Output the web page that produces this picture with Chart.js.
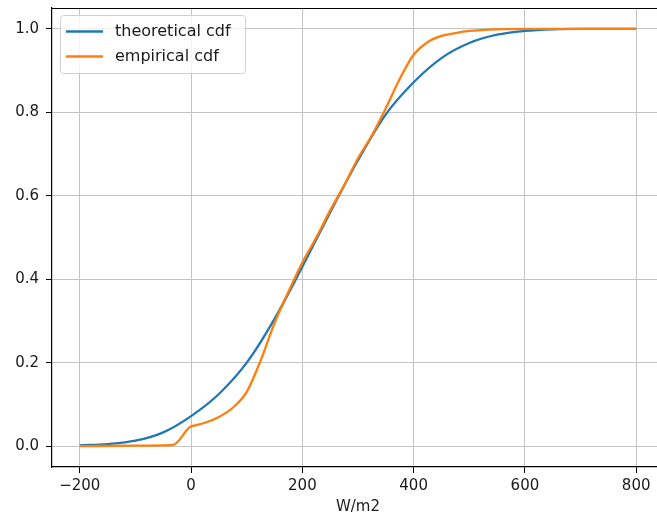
<!DOCTYPE html>
<html>
<head>
<meta charset="utf-8">
<script src="https://cdn.jsdelivr.net/npm/chart.js@4/dist/chart.umd.min.js"></script>
<style>
    html, body { margin: 0; padding: 0; background: #fff; overflow: hidden; }
    #wrap { width: 657px; height: 520px; overflow: hidden; }
</style>
</head>
<body>
<div id="wrap"><canvas id="cdf" width="664" height="520"></canvas></div>
<script>
// theoretical cdf
const theoX = [-200, -150, -100, -50, 0, 50, 100, 150, 200, 250, 300, 350, 400, 450, 500, 550, 600, 650, 700, 750, 800];
const theoCdf = [0.002, 0.005, 0.013, 0.033, 0.072, 0.125, 0.2, 0.305, 0.43, 0.56, 0.685, 0.795, 0.872, 0.93, 0.966, 0.986, 0.995, 0.999, 1.0, 1.0, 1.0];

// empirical cdf
const empX = [-200, -100, -50, -32, -2, 8, 25, 50, 75, 100, 125, 150, 175, 200, 225, 250, 275, 300, 325, 350, 375, 400, 425, 450, 475, 500, 550, 600, 700, 800];
const empCdf = [0.0, 0.001, 0.002, 0.003, 0.046, 0.05, 0.056, 0.07, 0.092, 0.13, 0.205, 0.295, 0.37, 0.44, 0.5, 0.565, 0.625, 0.69, 0.745, 0.81, 0.88, 0.938, 0.968, 0.983, 0.99, 0.995, 0.999, 1.0, 1.0, 1.0];

const xTicks = [-200, 0, 200, 400, 600, 800];
const yTicks = [0.0, 0.2, 0.4, 0.6, 0.8, 1.0];
const seriesLabels = ['theoretical cdf', 'empirical cdf'];
const seriesColors = ['#1f77b4', '#ff7f0e'];

const FONT = 'DejaVu Sans';

const toPoints = (xs, ys) => xs.map((x, i) => ({ x: x, y: ys[i] }));

// no extra room for end labels, the axes box is fixed
const noEdgePadding = scale => {
    scale.paddingTop = 0;
    scale.paddingBottom = 0;
    scale.paddingLeft = 0;
    scale.paddingRight = 0;
};

// top spine + matplotlib style legend inside the axes
const framePlugin = {
    id: 'frame',
    afterDraw(chart) {
        const { ctx, chartArea } = chart;
        ctx.save();
        ctx.strokeStyle = '#000';
        ctx.lineWidth = 1.2;
        ctx.beginPath();
        ctx.moveTo(chartArea.left, chartArea.top + 0.5);
        ctx.lineTo(chartArea.right, chartArea.top + 0.5);
        ctx.stroke();

        // legend box
        const bx = 60, by = 15, bw = 185, bh = 58;
        ctx.fillStyle = 'rgba(255,255,255,0.8)';
        ctx.strokeStyle = '#d0d0d0';
        ctx.lineWidth = 1;
        ctx.beginPath();
        ctx.roundRect(bx + 0.5, by + 0.5, bw, bh, 3);
        ctx.fill();
        ctx.stroke();

        ctx.font = '16px "' + FONT + '"';
        ctx.textBaseline = 'middle';
        ctx.textAlign = 'left';
        chart.data.datasets.forEach((ds, i) => {
            const y = 31.5 + i * 25;
            ctx.strokeStyle = ds.borderColor;
            ctx.lineWidth = 2.3;
            ctx.beginPath();
            ctx.moveTo(66, y);
            ctx.lineTo(103, y);
            ctx.stroke();
            ctx.fillStyle = '#1a1a1a';
            ctx.fillText(ds.label, 115, y);
        });
        ctx.restore();
    }
};

new Chart(document.getElementById('cdf'), {
    type: 'line',
    data: {
        datasets: [
            {
                label: seriesLabels[0],
                data: toPoints(theoX, theoCdf),
                borderColor: seriesColors[0],
                backgroundColor: seriesColors[0],
                borderWidth: 2.3,
                pointRadius: 0,
                cubicInterpolationMode: 'monotone',
                order: 1
            },
            {
                label: seriesLabels[1],
                data: toPoints(empX, empCdf),
                borderColor: seriesColors[1],
                backgroundColor: seriesColors[1],
                borderWidth: 2.3,
                pointRadius: 0,
                cubicInterpolationMode: 'monotone',
                order: 0
            }
        ]
    },
    options: {
        responsive: false,
        animation: false,
        layout: {
            padding: { top: 8, right: 0, bottom: 0, left: 0 }
        },
        plugins: {
            legend: { display: false },
            tooltip: { enabled: false }
        },
        scales: {
            x: {
                type: 'linear',
                min: -250,
                max: 850,
                afterBuildTicks: scale => {
                    scale.ticks = xTicks.map(v => ({ value: v }));
                },
                afterFit: scale => {
                    scale.height = 53;
                    noEdgePadding(scale);
                },
                grid: {
                    color: '#c4c4c4',
                    lineWidth: 1,
                    drawTicks: true,
                    tickLength: 6,
                    tickColor: '#000'
                },
                border: { display: true, color: '#000', width: 1.2 },
                ticks: {
                    color: '#1a1a1a',
                    font: { family: FONT, size: 15 },
                    padding: 4,
                    maxRotation: 0,
                    callback: v => String(v).replace('-', '\u2212')
                },
                title: {
                    display: true,
                    text: 'W/m2',
                    color: '#1a1a1a',
                    font: { family: FONT, size: 15 },
                    padding: { top: 0, bottom: 4 }
                }
            },
            y: {
                min: -0.05,
                max: 1.05,
                afterBuildTicks: scale => {
                    scale.ticks = yTicks.map(v => ({ value: v }));
                },
                afterFit: scale => {
                    scale.width = 52;
                    noEdgePadding(scale);
                },
                grid: {
                    color: '#c4c4c4',
                    lineWidth: 1,
                    drawTicks: true,
                    tickLength: 6,
                    tickColor: '#000'
                },
                border: { display: true, color: '#000', width: 1.2 },
                ticks: {
                    color: '#1a1a1a',
                    font: { family: FONT, size: 15 },
                    padding: 7,
                    callback: v => v.toFixed(1)
                }
            }
        }
    },
    plugins: [framePlugin]
});
</script>
</body>
</html>
